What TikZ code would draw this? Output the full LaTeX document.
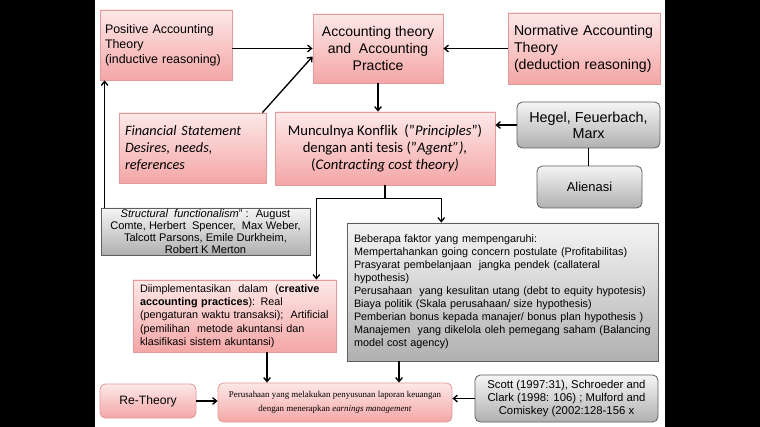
\documentclass[tikz,border=0pt]{standalone}
\usepackage{fontspec}
\setmainfont{Liberation Sans}
\newfontfamily\calfont[Ligatures={TeX,NoCommon}]{Carlito}
\newfontfamily\serfont{Liberation Serif}
\usetikzlibrary{arrows.meta,positioning,calc}

\definecolor{pinktop}{HTML}{FDE8E8}
\definecolor{pinkbot}{HTML}{F4A6A6}
\definecolor{pinkline}{HTML}{E39A9A}
\definecolor{graytop}{HTML}{F5F5F5}
\definecolor{graybot}{HTML}{B0B0B0}
\definecolor{grayline}{HTML}{5E5E5E}

\tikzset{
  pinkbox/.style={draw=pinkline, top color=pinktop, bottom color=pinkbot, inner sep=0pt, line width=0.6pt},
  graybox/.style={draw=grayline, top color=graytop, bottom color=graybot, inner sep=0pt, line width=0.6pt},
  roundbox/.style={rounded corners=4pt},
  arr/.style={-{Straight Barb[length=3pt,width=5pt]}, line width=1pt},
  link/.style={line width=1pt},
}

\begin{document}
\begin{tikzpicture}[x=0.75pt,y=-0.75pt]
  % frame
  \fill[black] (0,0) rectangle (760,427);
  \fill[white] (95,0) rectangle (665,427);
  \useasboundingbox (0,0) rectangle (760,427);

  % top row
  \node[pinkbox, minimum width=99pt, minimum height=52.5pt, text width=91.5pt, align=left,
        font=\fontsize{9.3}{11.25}\selectfont] (pos) at (166,45)
        {Positive Accounting\\Theory\\(inductive reasoning)};
  \node[pinkbox, minimum width=97.5pt, minimum height=51.75pt, align=center,
        font=\fontsize{10.5}{12.4}\selectfont] (theory) at (378,48.5)
        {Accounting theory\\and~ Accounting\\Practice};
  \node[pinkbox, minimum width=114pt, minimum height=53.25pt, text width=105pt, align=left,
        font=\fontsize{10.6}{12.75}\selectfont] (norm) at (584,48.5)
        {Normative Accounting\\Theory\\(deduction reasoning)};

  % middle row
  \node[pinkbox, minimum width=110.25pt, minimum height=52.5pt, text width=101.25pt, align=left,
        font=\calfont\itshape\fontsize{10.7}{12.75}\selectfont] (fin) at (192.5,148)
        {Financial Statement\\Desires, needs,\\references};
  \node[pinkbox, minimum width=165pt, minimum height=54.75pt, align=center,
        font=\calfont\fontsize{11}{12.75}\selectfont] (konflik) at (385,148.5)
        {Munculnya Konflik~ ("\textit{Principles}")\\dengan anti tesis ("\textit{Agent"),}\\(\textit{Contracting cost theory)}};
  \node[graybox, roundbox, minimum width=107.25pt, minimum height=34.5pt, align=center,
        font=\fontsize{10.8}{12}\selectfont] (hegel) at (588.5,125)
        {Hegel, Feuerbach,\\Marx};
  \node[graybox, roundbox, minimum width=78.75pt, minimum height=31.5pt,
        font=\fontsize{9.7}{11}\selectfont] (alien) at (589.5,187) {Alienasi};

  \node[graybox, minimum width=156.75pt, minimum height=35.25pt, align=center,
        font=\fontsize{8.3}{9}\selectfont] (struct) at (205.5,231.5)
        {\textit{Structural~ functionalism}" :~ August\\Comte, Herbert~ Spencer,~ Max Weber,\\Talcott Parsons, Emile Durkheim,\\Robert K Merton};

  % lower row
  \node[pinkbox, minimum width=152.25pt, minimum height=54pt, text width=141.75pt, align=left,
        font=\fontsize{8.1}{10}\selectfont] (creative) at (234.5,316)
        {Diimplementasikan~ dalam~ (\textbf{creative}\\\textbf{accounting practices}): Real\\(pengaturan waktu transaksi);~ Artificial\\(pemilihan~ metode akuntansi dan\\klasifikasi sistem akuntansi)};
  \node[graybox, minimum width=233.25pt, minimum height=103.5pt, text width=222.75pt, align=left,
        font=\fontsize{8.1}{9.75}\selectfont] (faktor) at (502.5,292)
        {Beberapa faktor yang mempengaruhi:\\
         Mempertahankan going concern postulate (Profitabilitas)\\
         Prasyarat pembelanjaan~ jangka pendek (callateral\\
         hypothesis)\\
         Perusahaan~ yang kesulitan utang (debt to equity hypotesis)\\
         Biaya politik (Skala perusahaan/ size hypothesis)\\
         Pemberian bonus kepada manajer/ bonus plan hypothesis )\\
         Manajemen~ yang dikelola oleh pemegang saham (Balancing\\
         model cost agency)};

  % bottom row
  \node[pinkbox, roundbox, minimum width=72pt, minimum height=25.5pt,
        font=\fontsize{9.1}{11}\selectfont] (retheory) at (148,401) {Re-Theory};
  \node[pinkbox, roundbox, minimum width=175.5pt, minimum height=29.25pt, align=center,
        font=\serfont\fontsize{6.7}{10.5}\selectfont] (earnings) at (335,402.5)
        {Perusahaan yang melakukan penyusunan laporan keuangan\\dengan menerapkan \textit{earnings management}};
  \node[graybox, roundbox, minimum width=137.25pt, minimum height=35.25pt, align=center,
        font=\fontsize{8.5}{9.75}\selectfont] (scott) at (566.5,398.5)
        {Scott (1997:31), Schroeder and\\Clark (1998: 106) ; Mulford and\\Comiskey (2002:128-156 x};

  % connectors
  \draw[arr] (theory.west -| pos.east) -- (theory.west);
  \draw[arr] ([xshift=-3pt]fin.north east) -- ([yshift=-6pt]theory.west);
  \draw[arr] (norm.west) -- (theory.east);
  \draw[arr] (theory.south) -- (theory.south |- konflik.north);
  \draw[arr] (hegel.west) -- (hegel.west -| konflik.east);
  \draw[link] (hegel.south) -- (hegel.south |- alien.north);

  \coordinate (split) at ([yshift=-10pt]konflik.south);
  \draw[link] (konflik.south) -- (split);
  \draw[arr] (split) -| ([xshift=-15pt]creative.north east);
  \draw[arr] (split) -| ([xshift=71pt]faktor.north west);

  \coordinate (structtop) at ([xshift=3pt]struct.north west);
  \draw[arr] (structtop) -- (structtop |- pos.south);

  \coordinate (credown) at ([xshift=24.4pt]creative.south);
  \draw[arr] (credown) -- (credown |- earnings.north);
  \coordinate (fakdown) at ([xshift=-77.6pt]faktor.south);
  \draw[arr] (fakdown) -- (fakdown |- earnings.north);

  \draw[arr] (retheory.east) -- (retheory.east -| earnings.west);
  \draw[arr] (scott.west) -- (scott.west -| earnings.east);
\end{tikzpicture}
\end{document}
